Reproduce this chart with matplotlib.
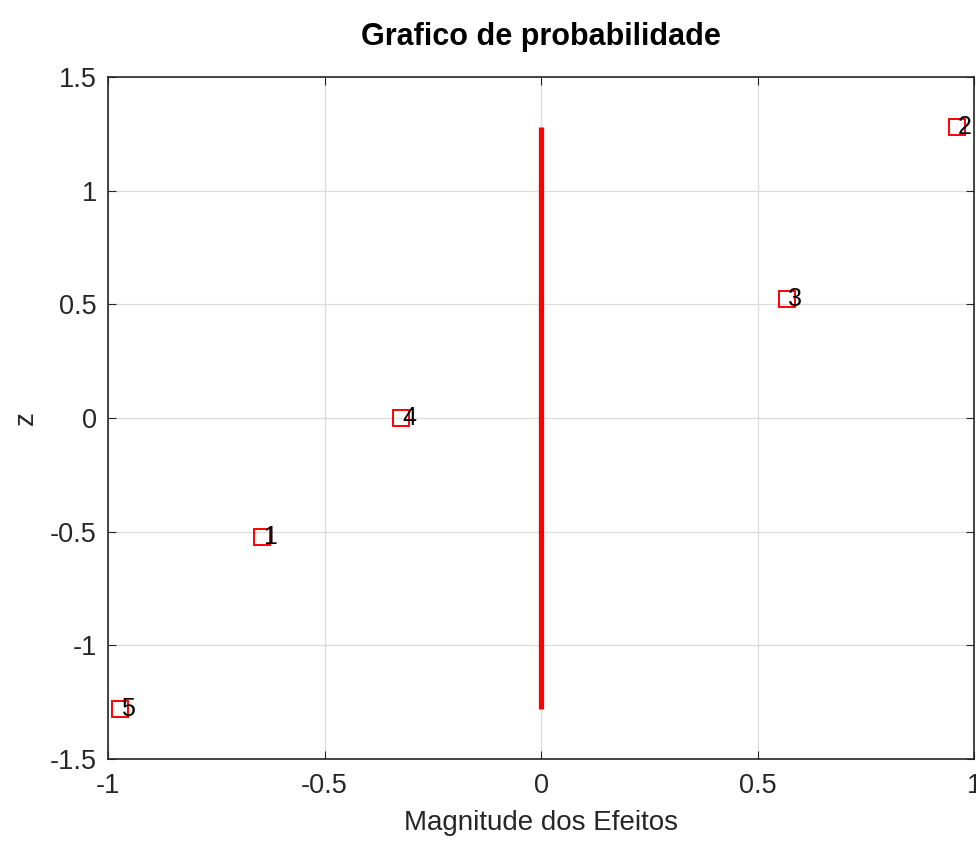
import matplotlib
matplotlib.use("Agg")
import matplotlib.pyplot as plt

plt.rcParams['font.family'] = ['Liberation Sans', 'DejaVu Sans']

labels = ["1", "2", "3", "4", "5"]
effects = [-0.644, 0.961, 0.568, -0.323, -0.972]
z = [-0.524, 1.282, 0.524, 0.0, -1.282]
line_x = [0, 0]
line_y = [-1.282, 1.282]

fig = plt.figure(figsize=(9.76, 8.46), dpi=100)
ax = fig.add_axes([0.1107, 0.1028, 0.8873, 0.8062])

ax.plot(line_x, line_y, color='#ff0000', linewidth=3.8, solid_capstyle='butt', zorder=3)
ax.plot(effects, z, linestyle='none', marker='s', markersize=12, markerfacecolor='none',
        markeredgecolor='#ff0000', markeredgewidth=1.4, zorder=4)
for x, y, t in zip(effects, z, labels):
    ax.text(x + 0.002, y, t, fontsize=18, ha='left', va='center', color='black', zorder=5)

ax.set_xlim(-1, 1)
ax.set_ylim(-1.5, 1.5)
ax.set_xticks([-1, -0.5, 0, 0.5, 1])
ax.set_xticklabels(['-1', '-0.5', '0', '0.5', '1'])
ax.set_yticks([-1.5, -1, -0.5, 0, 0.5, 1, 1.5])
ax.set_yticklabels(['-1.5', '-1', '-0.5', '0', '0.5', '1', '1.5'])
ax.grid(True, color='#dcdcdc', linewidth=0.9)
ax.set_axisbelow(True)
ax.tick_params(direction='in', labelsize=19.5, length=6, colors='#262626', pad=10,
               top=True, right=True)
ax.tick_params(axis='y', pad=8)
for s in ax.spines.values():
    s.set_color('#262626')
    s.set_linewidth(1.2)

ax.set_title('Grafico de probabilidade', fontsize=22, fontweight='bold', pad=23)
ax.set_xlabel('Magnitude dos Efeitos', fontsize=20, color='#262626', labelpad=8)
ax.set_ylabel('z', fontsize=20, color='#262626', labelpad=8)

fig.savefig('out.png', dpi=100)
